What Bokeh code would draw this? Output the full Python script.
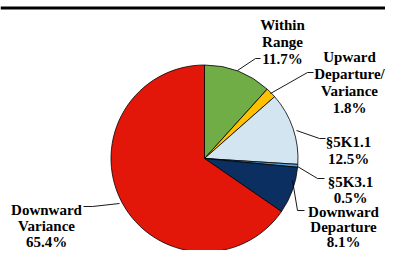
import numpy as np
from bokeh.plotting import figure
from bokeh.models import Range1d, ColumnDataSource
from bokeh.core.properties import value
from bokeh.embed import file_html
from bokeh.resources import INLINE

# Data
categories = ["Within Range", "Upward Departure/Variance", "§5K1.1", "§5K3.1",
              "Downward Departure", "Downward Variance"]
label_texts = [["Within", "Range", "11.7%"],
               ["Upward", "Departure/", "Variance", "1.8%"],
               ["§5K1.1", "12.5%"],
               ["§5K3.1", "0.5%"],
               ["Downward", "Departure", "8.1%"],
               ["Downward", "Variance", "65.4%"]]
shares = [11.7, 1.8, 12.5, 0.5, 8.1, 65.4]
colors = ["#70AD47", "#FFC000", "#D3E5F1", "#4FA3DC", "#0A2F60", "#E2170A"]

W, H = 385, 250
p = figure(width=W, height=H, x_range=Range1d(0, W), y_range=Range1d(0, H),
           output_backend="svg", toolbar_location=None, min_border=0)
p.axis.visible = False
p.grid.visible = False
p.outline_line_color = None
p.background_fill_color = "white"


def Y(sy):
    return H - sy

# top rule
p.line(x=[0, W], y=[Y(7.5), Y(7.5)], line_color="black", line_width=3)

# pie
vals = np.array(shares, dtype=float)
frac = vals / vals.sum()
cum = np.concatenate([[0.0], np.cumsum(frac)])
start = np.pi / 2 - 2 * np.pi * cum[:-1]
end = np.pi / 2 - 2 * np.pi * cum[1:]
cx, cy, r = 204, Y(158), 93.5
src = ColumnDataSource(dict(start=start, end=end, color=colors, cat=categories))
p.wedge(x=cx, y=cy, radius=r, start_angle="start", end_angle="end",
        direction="clock", fill_color="color", line_color="black",
        line_width=0.8, source=src)

# leader lines (screen coords)
leaders = [
    [(237, 70), (255, 58), (260, 58)],
    [(270, 93), (307, 72), (313, 72)],
    [(296, 130), (319, 138), (325, 138)],
    [(297, 166), (317, 178), (324, 178)],
    [(292, 180), (297, 210), (304, 210)],
    [(119, 203), (92, 206), (83, 206)],
]
p.multi_line(xs=[[pt[0] for pt in l] for l in leaders],
             ys=[[Y(pt[1]) for pt in l] for l in leaders],
             line_color="black", line_width=0.9)

# labels: centre x, first baseline (screen), line spacing
label_pos = [(282, 24, 17), (349, 56, 17), (348, 141, 17), (350, 181, 16),
             (343, 211, 15), (46, 209, 16)]
xs, ys, ts = [], [], []
for lines, (lx, ly, dy) in zip(label_texts, label_pos):
    for i, t in enumerate(lines):
        xs.append(lx)
        ys.append(Y(ly + i * dy))
        ts.append(t)
p.text(x=xs, y=ys, text=ts, text_align="center", text_baseline="alphabetic",
       text_font=value("Liberation Serif"), text_font_style="bold",
       text_font_size="15px", text_color="black")

open("out.html", "w").write(file_html(p, INLINE))
